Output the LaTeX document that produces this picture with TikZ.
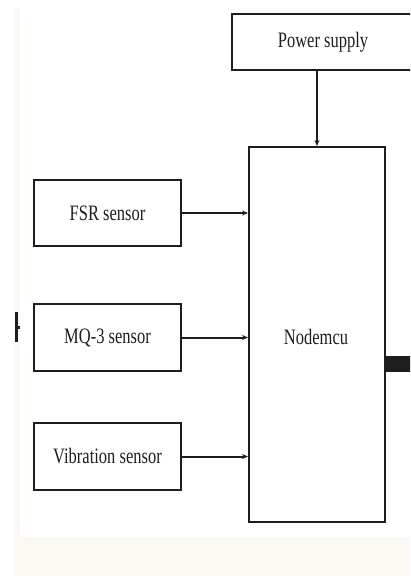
\documentclass[tikz,border=0pt]{standalone}
\usepackage{fontspec}
\setmainfont[FakeStretch=0.75]{Liberation Serif}
\usetikzlibrary{arrows.meta}
\definecolor{paper}{HTML}{FBF8F3}
\definecolor{ink}{HTML}{1E1E1E}
\tikzset{
    block/.style={draw=ink, line width=2pt, fill=white, inner sep=0pt,
        text=ink, font=\fontsize{22}{26}\selectfont},
    link/.style={draw=ink, line width=2pt, -{Stealth[length=6pt,width=5pt]}}
}
\begin{document}
\begin{tikzpicture}[x=1pt,y=-1pt]
        % Page and the light paper bands
        \useasboundingbox (0,0) rectangle (410,576);
        \clip (0,0) rectangle (410,576);
        \fill[paper] (14,537) rectangle (410,576);
        \fill[paper] (14,8) rectangle (20,537);

        % Power supply block, cut off at the right edge
        \node[block, minimum width=182pt, minimum height=56pt] (power) at (323,42) {Power supply};

        % Controller block
        \node[block, minimum width=136pt, minimum height=375pt] (nodemcu) at (317,334.5) {};
        \node[text=ink, font=\fontsize{22}{26}\selectfont] (mcu) at (316,337) {Nodemcu};

        % Sensor blocks
        \node[block, minimum width=147pt, minimum height=66pt] (fsr) at (107.5,213) {FSR sensor};
        \node[block, minimum width=147pt, minimum height=67pt] (mq) at (107.5,337.5) {MQ-3 sensor};
        \node[block, minimum width=147pt, minimum height=67pt] (vib) at (107.5,456.5) {Vibration sensor};

        % Arrows into the controller
        \draw[link] (nodemcu.north |- power.south) -- (nodemcu.north);
        \draw[link] (fsr.east) -- (fsr.east -| nodemcu.west);
        \draw[link] (mq.east) -- (mq.east -| nodemcu.west);
        \draw[link] (vib.east) -- (vib.east -| nodemcu.west);

        % Thick output bar leaving to the right
        \coordinate (out) at (414,364);
        \draw[ink, line width=16pt] (nodemcu.east |- out) -- (out);

        % Stray mark at the left edge
        \fill[ink] (15,312) rectangle (18,342);
        \fill[ink] (18,326) rectangle (20,329);
\end{tikzpicture}
\end{document}
